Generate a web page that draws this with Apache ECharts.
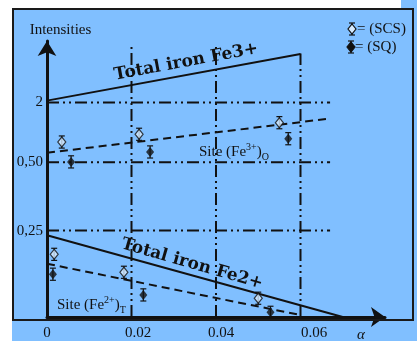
<!DOCTYPE html>
<html>
<head>
<meta charset="utf-8">
<script src="https://cdn.jsdelivr.net/npm/echarts@6/dist/echarts.min.js"></script>
<style>
  html, body { margin: 0; padding: 0; background: #ffffff; }
  #chart { width: 417px; height: 341px; }
</style>
</head>
<body>
<div id="chart"></div>
<script>
// Horizontal axis: alpha. Vertical axis: schematic intensity scale (0–100).
const xTickValues = [0, 0.02, 0.04, 0.06];
const xTickLabels = ['0', '0.02', '0.04', '0.06'];
const yTickValues = [31.3, 56.1, 77.7];
const yTickLabels = ['0,25', '0,50', '2'];

// Trend lines
const totalFe3 = [[0, 78.4], [0.06, 95.3]];
const siteFe3 = [[0, 59.5], [0.067, 71.9]];
const totalFe2 = [[0, 29.6], [0.070, 0]];
const siteFe2 = [[0, 19.3], [0.060, 0.7]];

// Measured points (SCS = open diamonds, SQ = filled diamonds)
const fe3ScsAlpha = [0.0035, 0.0218, 0.0550];
const fe3ScsInt = [63.4, 66.2, 70.4];
const fe3SqAlpha = [0.0057, 0.0244, 0.0571];
const fe3SqInt = [56.2, 59.8, 64.6];
const fe2ScsAlpha = [0.0017, 0.0182, 0.0500];
const fe2ScsInt = [22.7, 16.2, 6.8];
const fe2SqAlpha = [0.0014, 0.0228, 0.0529];
const fe2SqInt = [15.5, 8.0, 1.7];
const errHalf = 2.2;

// Reference (dash-dot) lines
const gridAlpha = [0.02, 0.04, 0.06];
const gridAlphaTop = [98.6, 97.8, 95.5];
const gridIntEnd = 0.067;

const BLUE = '#80bfff';
const INK = '#111111';
const SERIF = '"Liberation Serif", "DejaVu Serif", serif';
const DASH_DOT = [12, 4, 2, 4, 2, 4];

const zip = (xs, ys) => xs.map((x, i) => [x, ys[i]]);
const scsPoints = zip(fe3ScsAlpha, fe3ScsInt).concat(zip(fe2ScsAlpha, fe2ScsInt));
const sqPoints = zip(fe3SqAlpha, fe3SqInt).concat(zip(fe2SqAlpha, fe2SqInt));

function lineSeries(data, type, width) {
  return {
    type: 'line', data, symbol: 'none', silent: true, z: 3,
    lineStyle: { color: INK, width: width || 2, type: type || 'solid' },
    animation: false
  };
}

const refLines = [];
gridAlpha.forEach((a, i) => {
  refLines.push(lineSeries([[a, 0], [a, gridAlphaTop[i]]], DASH_DOT, 2));
});
yTickValues.forEach(v => {
  refLines.push(lineSeries([[0, v], [gridIntEnd, v]], DASH_DOT, 2));
});

function errorBars(points) {
  return {
    type: 'custom', silent: true, z: 4, animation: false,
    data: points,
    renderItem(params, api) {
      const x = api.value(0), y = api.value(1);
      const top = api.coord([x, y + errHalf]);
      const bot = api.coord([x, y - errHalf]);
      const st = { stroke: INK, lineWidth: 1.2 };
      return {
        type: 'group',
        children: [
          { type: 'line', shape: { x1: top[0], y1: top[1], x2: bot[0], y2: bot[1] }, style: st },
          { type: 'line', shape: { x1: top[0] - 3, y1: top[1], x2: top[0] + 3, y2: top[1] }, style: st },
          { type: 'line', shape: { x1: bot[0] - 3, y1: bot[1], x2: bot[0] + 3, y2: bot[1] }, style: st }
        ]
      };
    }
  };
}

// Legend glyph: diamond with error bar
function legendGlyph(cx, cy, filled) {
  const st = { stroke: INK, lineWidth: 1.2 };
  return {
    type: 'group',
    children: [
      { type: 'line', shape: { x1: cx, y1: cy - 6, x2: cx, y2: cy + 6 }, style: st },
      { type: 'line', shape: { x1: cx - 3, y1: cy - 6, x2: cx + 3, y2: cy - 6 }, style: st },
      { type: 'line', shape: { x1: cx - 3, y1: cy + 6, x2: cx + 3, y2: cy + 6 }, style: st },
      { type: 'polygon', shape: { points: [[cx, cy - 5], [cx + 4, cy], [cx, cy + 5], [cx - 4, cy]] },
        style: { fill: filled ? INK : '#d6ebff', stroke: INK, lineWidth: 1.2 } }
    ]
  };
}

const chart = echarts.init(document.getElementById('chart'), null, { renderer: 'canvas' });

const option = {
  backgroundColor: BLUE,
  animation: false,
  grid: { left: 47, right: 32, top: 41, bottom: 22, containLabel: false },
  xAxis: {
    type: 'value', min: 0, max: 0.08, interval: 0.02,
    splitLine: { show: false },
    axisTick: { show: false },
    axisLine: { show: true, lineStyle: { color: INK, width: 3 }, symbol: ['none', 'arrow'], symbolSize: [15, 14] },
    axisLabel: {
      margin: 9,
      showMaxLabel: true,
      formatter(v) {
        const i = xTickValues.findIndex(t => Math.abs(t - v) < 1e-9);
        return i < 0 ? '' : '{o' + i + '|' + xTickLabels[i] + '}';
      },
      rich: {
        o0: { fontFamily: SERIF, fontSize: 15, color: INK, padding: [0, 0, 0, 0] },
        o1: { fontFamily: SERIF, fontSize: 15, color: INK, padding: [0, 0, 0, 13] },
        o2: { fontFamily: SERIF, fontSize: 15, color: INK, padding: [0, 0, 0, 10] },
        o3: { fontFamily: SERIF, fontSize: 15, color: INK, padding: [0, 0, 0, 27] }
      }
    }
  },
  yAxis: {
    type: 'value', min: 0, max: 100,
    splitLine: { show: false },
    axisTick: { show: false },
    axisLine: { show: true, lineStyle: { color: INK, width: 3 }, symbol: ['none', 'arrow'], symbolSize: [14, 15] },
    axisLabel: {
      customValues: yTickValues,
      margin: 4,
      fontFamily: SERIF, fontSize: 15, color: INK,
      formatter(v) {
        const i = yTickValues.findIndex(t => Math.abs(t - v) < 1e-6);
        return i < 0 ? '' : yTickLabels[i];
      }
    }
  },
  series: [
    ...refLines,
    lineSeries(totalFe3, 'solid', 2),
    lineSeries(siteFe3, [8, 5], 2),
    lineSeries(totalFe2, 'solid', 2),
    lineSeries(siteFe2, [8, 5], 2),
    errorBars(scsPoints),
    errorBars(sqPoints),
    {
      type: 'scatter', data: scsPoints, symbol: 'diamond', symbolSize: [8, 10], z: 5,
      itemStyle: { color: '#d6ebff', borderColor: INK, borderWidth: 1.2 }, silent: true
    },
    {
      type: 'scatter', data: sqPoints, symbol: 'diamond', symbolSize: [8, 10], z: 5,
      itemStyle: { color: INK }, silent: true
    }
  ],
  graphic: [
    { type: 'rect', z: -1, shape: { x: 0, y: 0, width: 401, height: 8 }, style: { fill: '#ffffff' }, silent: true },
    { type: 'rect', z: -1, shape: { x: 0, y: 0, width: 12, height: 341 }, style: { fill: '#ffffff' }, silent: true },
    { type: 'rect', z: 1, shape: { x: 13, y: 9, width: 400, height: 311 }, style: { fill: 'none', stroke: '#1a1a1a', lineWidth: 2 }, silent: true },
    { type: 'text', x: 60.5, y: 30, style: { text: 'Intensities', font: '15px ' + SERIF, fill: INK, align: 'center', verticalAlign: 'middle' } },
    { type: 'text', x: 361, y: 335, style: { text: 'α', font: 'italic 15px ' + SERIF, fill: INK, align: 'center', verticalAlign: 'middle' } },
    { type: 'text', x: 186, y: 62, rotation: 10.6 * Math.PI / 180,
      style: { text: 'Total iron Fe3+', font: 'bold 17px "DejaVu Serif"', fill: INK, align: 'center', verticalAlign: 'middle' } },
    { type: 'text', x: 192, y: 264, rotation: -16 * Math.PI / 180,
      style: { text: 'Total iron Fe2+', font: 'bold 17px "DejaVu Serif"', fill: INK, align: 'center', verticalAlign: 'middle' } },
    { type: 'text', x: 199, y: 152,
      style: {
        text: '{a|Site (Fe}{sup|3+}{a|)}{sub|O}', align: 'left', verticalAlign: 'middle',
        rich: {
          a: { fontFamily: SERIF, fontSize: 15, fill: INK, lineHeight: 20, verticalAlign: 'middle' },
          sup: { fontFamily: SERIF, fontSize: 10, fill: INK, lineHeight: 10, verticalAlign: 'top' },
          sub: { fontFamily: SERIF, fontSize: 10, fill: INK, lineHeight: 10, verticalAlign: 'bottom' }
        }
      } },
    { type: 'text', x: 57, y: 305,
      style: {
        text: '{a|Site (Fe}{sup|2+}{a|)}{sub|T}', align: 'left', verticalAlign: 'middle',
        rich: {
          a: { fontFamily: SERIF, fontSize: 15, fill: INK, lineHeight: 20, verticalAlign: 'middle' },
          sup: { fontFamily: SERIF, fontSize: 10, fill: INK, lineHeight: 10, verticalAlign: 'top' },
          sub: { fontFamily: SERIF, fontSize: 10, fill: INK, lineHeight: 10, verticalAlign: 'bottom' }
        }
      } },
    legendGlyph(352, 29, false),
    { type: 'text', x: 357, y: 29, style: { text: '= (SCS)', font: '15px ' + SERIF, fill: INK, align: 'left', verticalAlign: 'middle' } },
    legendGlyph(351, 47, true),
    { type: 'text', x: 355, y: 47, style: { text: '= (SQ)', font: '15px ' + SERIF, fill: INK, align: 'left', verticalAlign: 'middle' } }
  ]
};

chart.setOption(option);
</script>
</body>
</html>
